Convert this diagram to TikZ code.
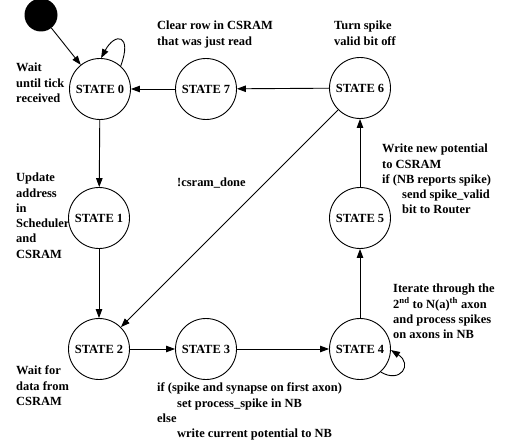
\documentclass[tikz,border=0pt]{standalone}
\usepackage{fontspec}
\setmainfont{Liberation Serif}
\usetikzlibrary{arrows.meta}
\usetikzlibrary{positioning}

\begin{document}
\begin{tikzpicture}[x=1bp,y=-1bp,font=\fontsize{12.5}{15.3}\selectfont\bfseries]

\tikzstyle{stateBox}=[circle,draw=black,line width=0.9bp,minimum size=61bp,inner sep=0pt];
\tikzstyle{noteBox}=[anchor=north west,align=left,inner sep=0pt];
\tikzstyle{trans}=[line width=0.9bp,-{Triangle[length=9bp,width=6.5bp]}];

\useasboundingbox (0,0) rectangle (510,447);

% states
\node [circle,fill=black,minimum size=33bp,inner sep=0pt] (start) at (41,15) {};
\node [stateBox] (state0) at (100,89) {STATE 0};
\node [stateBox] (state7) at (206,89) {STATE 7};
\node [stateBox] (state6) at (360,88) {STATE 6};
\node [stateBox] (state1) at (99,218) {STATE 1};
\node [stateBox] (state2) at (99,349) {STATE 2};
\node [stateBox] (state3) at (206,349) {STATE 3};
\node [stateBox] (state4) at (360,349) {STATE 4};
\node [stateBox] (state5) at (360,218) {STATE 5};

% transitions
\draw [trans] (start) -- (state0);
\draw [trans] (state0.48) .. controls +(12,-32) and +(14,-26) .. (state0.88);
\draw [trans] (state7) -- (state0);
\draw [trans] (state6) -- (state7);
\draw [trans] (state0) -- (state1);
\draw [trans] (state1) -- (state2);
\draw [trans] (state6) -- (state2);
\draw [trans] (state2) -- (state3);
\draw [trans] (state3) -- (state4);
\draw [trans] (state4) -- (state5);
\draw [trans] (state5) -- (state6);
\draw [trans] (state4.-48) .. controls +(20,12) and +(22,14) .. (state4.-2);

% notes
\node [noteBox] (note7) at (157,21) {Clear row in CSRAM\\that was just read};
\node [noteBox] (note6) at (334,21) {Turn spike\\valid bit off};
\node [noteBox] (note0) at (16,63) {Wait\\until tick\\received};
\node [noteBox] (noteDone) at (177,178) {!csram\_done};
\node [noteBox] (note1) at (16,173) {Update\\address\\in\\Scheduler\\and\\CSRAM};
\node [noteBox] (note5) at (382,144) {Write new potential\\to CSRAM\\if (NB reports spike)\\\hspace*{20bp}send spike\_valid\\\hspace*{20bp}bit to Router};
\node [noteBox] (note4) at (393,284) {Iterate through the\\2\textsuperscript{nd} to N(a)\textsuperscript{th} axon\\and process spikes\\on axons in NB};
\node [noteBox] (note2) at (16,366) {Wait for\\data from\\CSRAM};
\node [noteBox] (note3) at (157,383) {if (spike and synapse on first axon)\\\hspace*{20bp}set process\_spike in NB\\else\\\hspace*{20bp}write current potential to NB};

\end{tikzpicture}
\end{document}
